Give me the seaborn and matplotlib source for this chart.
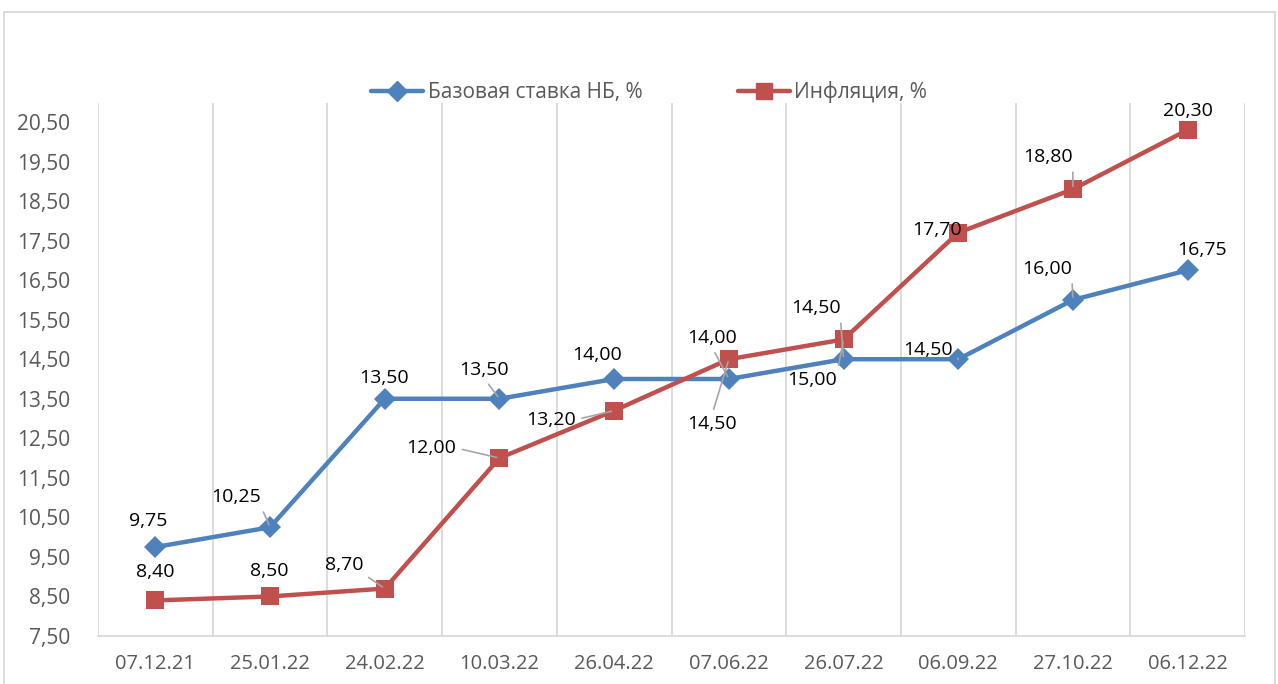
import numpy as np
import pandas as pd
import seaborn as sns
import matplotlib.pyplot as plt
from matplotlib.patches import Rectangle
from matplotlib.lines import Line2D

# data
dates = ["07.12.21", "25.01.22", "24.02.22", "10.03.22", "26.04.22",
         "07.06.22", "26.07.22", "06.09.22", "27.10.22", "06.12.22"]
base_rate = [9.75, 10.25, 13.50, 13.50, 14.00, 14.00, 14.50, 14.50, 16.00, 16.75]
inflation = [8.40, 8.50, 8.70, 12.00, 13.20, 14.50, 15.00, 17.70, 18.80, 20.30]
y_ticks = [7.5 + i for i in range(14)]

name_base = "Базовая ставка НБ, %"
name_infl = "Инфляция, %"
blue = "#4F81BD"
red = "#C0504D"

# label offsets in pixels (dx, dy) and whether excel drew a leader line
base_lbl = [(-7, 26, 0), (-34, 30, 1), (-1, 21, 0), (-15, 29, 1), (-17, 24, 0),
            (-17, 41, 1), (-28, 51, 1), (-30, 9, 1), (-26, 31, 1), (14, 20, 0)]
infl_lbl = [(0, 28, 0), (-1, 25, 0), (-41, 24, 1), (-68, 10, 1), (-63, -9, 1),
            (-17, -65, 1), (-31, -41, 1), (-21, 3, 0), (-25, 32, 1), (0, 19, 0)]

sns.set_style("white")
plt.rcParams['font.family'] = ['Open Sans', 'DejaVu Sans']

df = pd.DataFrame({
    "pos": list(range(len(dates))) * 2,
    "value": base_rate + inflation,
    "series": [name_base] * len(dates) + [name_infl] * len(dates),
})

fig = plt.figure(figsize=(12.78, 6.84), dpi=100)
ax = fig.add_axes([98 / 1278, 1 - 636 / 684, (1245 - 98) / 1278, (636 - 103) / 684])

sns.lineplot(data=df, x="pos", y="value", hue="series", style="series",
             palette={name_base: blue, name_infl: red},
             markers={name_base: "D", name_infl: "s"}, dashes=False,
             markersize=11, markeredgewidth=0, linewidth=3.2, ax=ax, legend=False)
# make squares a bit bigger than diamonds
for ln in ax.lines:
    if ln.get_marker() == "s":
        ln.set_markersize(13)

ax.set_xlim(-0.5, len(dates) - 0.5)
ax.set_ylim(7.5, 20.98)
ax.set_yticks(y_ticks)
ax.set_yticklabels([f"{v:.2f}".replace(".", ",") for v in y_ticks],
                   color="#595959", fontsize=15)
ax.set_xticks(range(len(dates)))
ax.set_xticklabels(dates, color="#595959", fontsize=14.5)
ax.set_xticks(np.arange(-0.5, len(dates)), minor=True)
ax.tick_params(axis="x", which="both", length=0, pad=13)
ax.tick_params(axis="y", length=0, pad=20)
ax.grid(False)
ax.grid(True, which="minor", axis="x", color="#D9D9D9", lw=1.3)
for s in ["top", "right", "left"]:
    ax.spines[s].set_visible(False)
ax.spines["bottom"].set_color("#D9D9D9")
ax.spines["bottom"].set_linewidth(1.3)
ax.set_xlabel("")
ax.set_ylabel("")


def fmt(v):
    return f"{v:.2f}".replace(".", ",")


for vals, lbls in [(base_rate, base_lbl), (inflation, infl_lbl)]:
    for i, (v, (dx, dy, lead)) in enumerate(zip(vals, lbls)):
        kw = {}
        if lead:
            rx = 1 if dx < -20 else (0 if dx > 20 else 0.5)
            ry = 0 if dy > 10 else (1 if dy < -10 else 0.5)
            kw["arrowprops"] = dict(arrowstyle="-", color="#A6A6A6", lw=1.2,
                                    shrinkA=2, shrinkB=2, relpos=(rx, ry))
        ax.annotate(fmt(v), (i, v), xytext=(dx, dy), textcoords="offset pixels",
                    ha="center", va="center", fontsize=14, color="black",
                    zorder=5, **kw)

handles = [Line2D([], [], color=blue, lw=3.2, marker="D", markersize=10),
           Line2D([], [], color=red, lw=3.2, marker="s", markersize=12)]
fig.legend(handles, [name_base, name_infl], loc="center", ncol=2,
           bbox_to_anchor=(0.508, 1 - 92 / 684), frameon=False, fontsize=15,
           handlelength=2.5, handletextpad=0.2, columnspacing=4.6,
           labelcolor="#595959")

# outer chart border
fig.patches.append(Rectangle((4 / 1278, -0.05), (1275 - 4) / 1278, 1.05 - 12 / 684,
                             transform=fig.transFigure, fill=False,
                             edgecolor="#D9D9D9", lw=1.3))

fig.savefig("out.png", dpi=100)
